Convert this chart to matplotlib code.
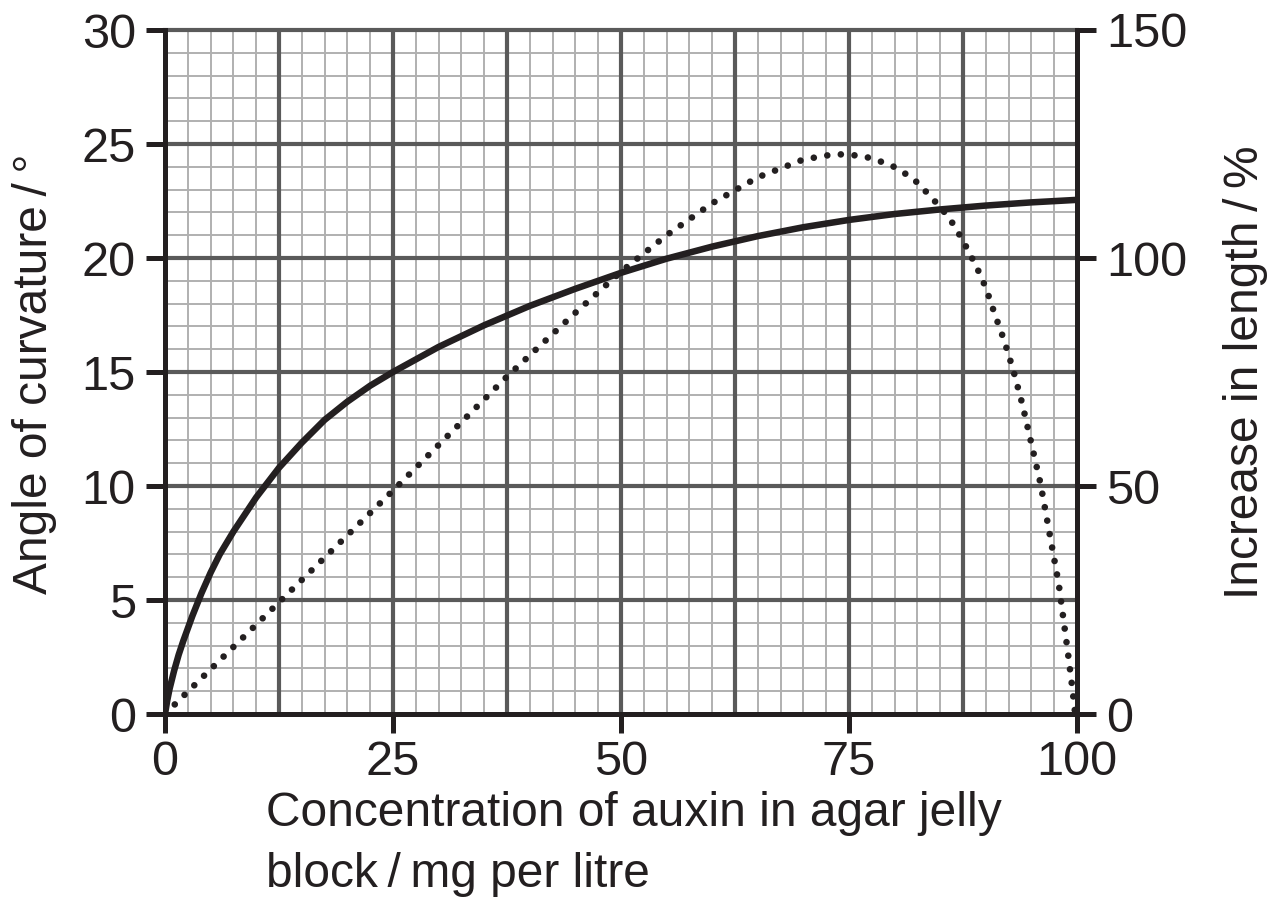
import numpy as np
import matplotlib
matplotlib.use("Agg")
import matplotlib.pyplot as plt

plt.rcParams['font.family'] = ['Liberation Sans', 'DejaVu Sans']

# Angle of curvature (left axis, degrees)
conc_angle = [0, 0.25, 0.5, 1, 1.5, 2, 3, 4, 5, 6, 7.5, 10, 12.5, 15, 17.5, 20, 22.5,
              25, 30, 35, 40, 45, 50, 55, 60, 65, 70, 75, 80, 85, 90, 95, 100]
angle = [0, 0.6, 1.1, 1.9, 2.6, 3.2, 4.3, 5.3, 6.2, 7.0, 8.0, 9.5, 10.8, 11.9, 12.9,
         13.7, 14.4, 15.0, 16.1, 17.05, 17.9, 18.65, 19.35, 19.97, 20.5, 20.96,
         21.35, 21.67, 21.93, 22.13, 22.3, 22.44, 22.55]

# Increase in length (right axis, %)
conc_length = [0, 12.5, 25, 37.5, 45, 50, 55, 60, 65, 70, 73.5, 76.5, 79.5, 82, 84,
               86, 87.5, 89, 90, 91, 92, 93, 94, 95, 96, 97, 98, 99, 99.5, 99.8]
length = [0, 24.5, 49, 74, 88, 97, 105, 112, 117.7, 121.6, 122.8, 122.4, 120.5,
          117.5, 113.4, 108.8, 103.8, 98, 93.5, 87.6, 82, 75.5, 68, 59.3, 50.5,
          39.5, 28.5, 13.5, 5.5, 0]

x_ticks = [0, 25, 50, 75, 100]
left_ticks = [0, 5, 10, 15, 20, 25, 30]
right_ticks = [0, 50, 100, 150]

INK = '#231f20'
MAJ = '#5a5a5a'
MIN = '#b0b0b0'

fig = plt.figure(figsize=(12.75, 9), dpi=100)
ax = fig.add_axes([165/1275, 1-714/900, (1077-165)/1275, (714-30)/900])
ax.set_xlim(0, 100)
ax.set_ylim(0, 30)

# graph-paper grid
for xv in np.arange(0, 100.01, 2.5):
    ax.axvline(xv, color=MIN, lw=1.4, zorder=0.5)
for yv in np.arange(0, 30.01, 1):
    ax.axhline(yv, color=MIN, lw=1.4, zorder=0.5)
for xv in np.arange(12.5, 100, 12.5):
    ax.axvline(xv, color=MAJ, lw=3.0, zorder=0.6)
for yv in np.arange(5, 30.01, 5):
    ax.axhline(yv, color=MAJ, lw=3.0, zorder=0.6, clip_on=False)

ax.plot(conc_angle, angle, color=INK, lw=4.7, solid_capstyle='butt',
        solid_joinstyle='round', zorder=3)

ax.set_xticks(x_ticks)
ax.set_yticks(left_ticks)
ax.tick_params(axis='both', direction='out', length=14, width=3.6, color=INK,
               labelsize=35, labelcolor=INK)
ax.tick_params(axis='x', pad=5)
ax.tick_params(axis='y', pad=7)
for s in ['top', 'right']:
    ax.spines[s].set_visible(False)
for s in ['left', 'bottom']:
    ax.spines[s].set_linewidth(3.6)
    ax.spines[s].set_color(INK)
    ax.spines[s].set_zorder(4)

ax2 = ax.twinx()
ax2.set_ylim(0, 150)
ax2.set_yticks(right_ticks)
ax2.plot(conc_length, length, color=INK, lw=4.8, linestyle=(0, (0.001, 2.05)),
         dash_capstyle='round', zorder=3)
ax2.tick_params(axis='y', direction='out', length=14, width=3.6, color=INK,
                labelsize=35, labelcolor=INK, pad=7)
for s in ['top', 'left', 'bottom']:
    ax2.spines[s].set_visible(False)
ax2.spines['right'].set_linewidth(3.6)
ax2.spines['right'].set_color(INK)

LBL = 34.5
fig.text(266/1275, 1-826/900, 'Concentration of auxin in agar jelly',
         fontsize=LBL, color=INK, ha='left', va='baseline')
fig.text(266/1275, 1-887/900, 'block\u2009/\u2009mg per litre',
         fontsize=LBL, color=INK, ha='left', va='baseline')
fig.text(35/1275, 1-374/900, 'Angle of curvature\u2009/\u2009°', rotation=90,
         fontsize=LBL, color=INK, ha='center', va='center')
fig.text(1245/1275, 1-372/900, 'Increase in length\u2009/\u2009%', rotation=90,
         fontsize=LBL, color=INK, ha='center', va='center')

fig.savefig('out.png', dpi=100)
